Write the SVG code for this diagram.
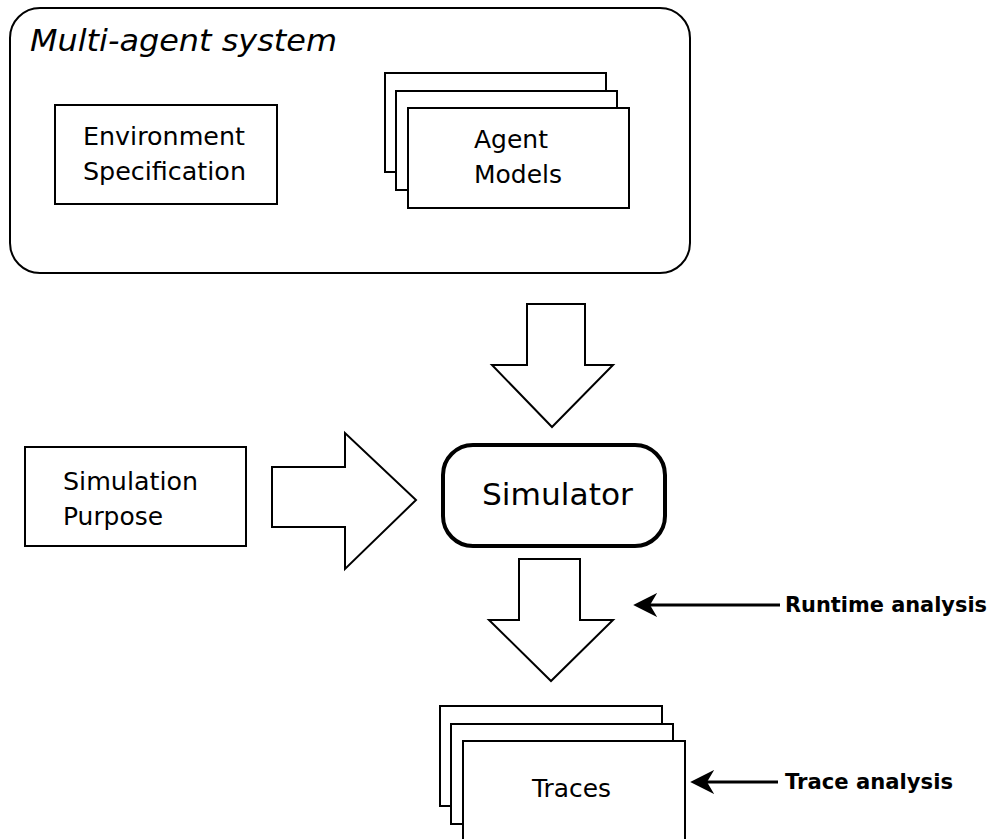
<svg xmlns="http://www.w3.org/2000/svg" width="992" height="839" viewBox="0 0 992 839">
<defs>
<style>
.box{fill:#fff;stroke:#000;stroke-width:2}
.arr{fill:#fff;stroke:#000;stroke-width:2;stroke-linejoin:miter}
.t{font-family:"DejaVu Sans","Liberation Sans",sans-serif;font-size:25px;fill:#000}
.b{font-family:"DejaVu Sans","Liberation Sans",sans-serif;font-size:21px;font-weight:bold;fill:#000}
.ln{stroke:#000;stroke-width:3;fill:none}
</style>
<marker id="ah" viewBox="0 0 10 10" refX="3" refY="5" markerWidth="8" markerHeight="8" orient="auto-start-reverse" markerUnits="strokeWidth">
<path d="M0,0 L10,5 L0,10 L3,5 z" fill="#000"/>
</marker>
</defs>
<rect width="992" height="839" fill="#fff"/>
<g id="mas">
<rect x="10" y="8" width="680" height="265" rx="30" ry="30" class="box"/>
<text x="30" y="51" class="t" style="font-style:italic;font-size:30px" textLength="307" lengthAdjust="spacingAndGlyphs">Multi-agent system</text>
</g>
<g id="env">
<rect x="55" y="105" width="222" height="99" class="box"/>
<text x="83" y="145" class="t" textLength="162" lengthAdjust="spacingAndGlyphs">Environment</text>
<text x="83" y="180" class="t" textLength="163" lengthAdjust="spacingAndGlyphs">Specification</text>
</g>
<g id="agents">
<rect x="385" y="73" width="221" height="99" class="box"/>
<rect x="396" y="91" width="221" height="99" class="box"/>
<rect x="408" y="108" width="221" height="100" class="box"/>
<text x="474" y="148" class="t" textLength="74" lengthAdjust="spacingAndGlyphs">Agent</text>
<text x="474" y="183" class="t" textLength="88" lengthAdjust="spacingAndGlyphs">Models</text>
</g>
<g id="purpose">
<rect x="25" y="447" width="221" height="99" class="box"/>
<text x="63" y="490" class="t" textLength="135" lengthAdjust="spacingAndGlyphs">Simulation</text>
<text x="63" y="525" class="t" textLength="100" lengthAdjust="spacingAndGlyphs">Purpose</text>
</g>
<g id="simulator">
<rect x="443" y="445" width="222" height="101" rx="30" ry="30" fill="#fff" stroke="#000" stroke-width="4"/>
<text x="482" y="505" class="t" style="font-size:31px" textLength="151" lengthAdjust="spacingAndGlyphs">Simulator</text>
</g>
<g id="traces">
<rect x="440" y="706" width="222" height="100" class="box"/>
<rect x="451" y="724" width="222" height="100" class="box"/>
<rect x="463" y="741" width="222" height="110" class="box"/>
<text x="532" y="797" class="t" textLength="79" lengthAdjust="spacingAndGlyphs">Traces</text>
</g>
<g id="connectors">
<path class="arr" d="M527,304 L585,304 L585,365 L613,365 L552,427 L492,365 L527,365 Z"/>
<path class="arr" d="M272,467 L345,467 L345,433 L416,500 L345,569 L345,527 L272,527 Z"/>
<path class="arr" d="M519,559 L580,559 L580,620 L613,620 L551,681 L489,620 L519,620 Z"/>
<line class="ln" x1="780" y1="605" x2="650" y2="605" marker-end="url(#ah)"/>
<line class="ln" x1="778" y1="782" x2="707" y2="782" marker-end="url(#ah)"/>
</g>
<g id="labels">
<text x="785" y="612" class="b" textLength="202" lengthAdjust="spacingAndGlyphs">Runtime analysis</text>
<text x="785" y="789" class="b" textLength="168" lengthAdjust="spacingAndGlyphs">Trace analysis</text>
</g>
</svg>
